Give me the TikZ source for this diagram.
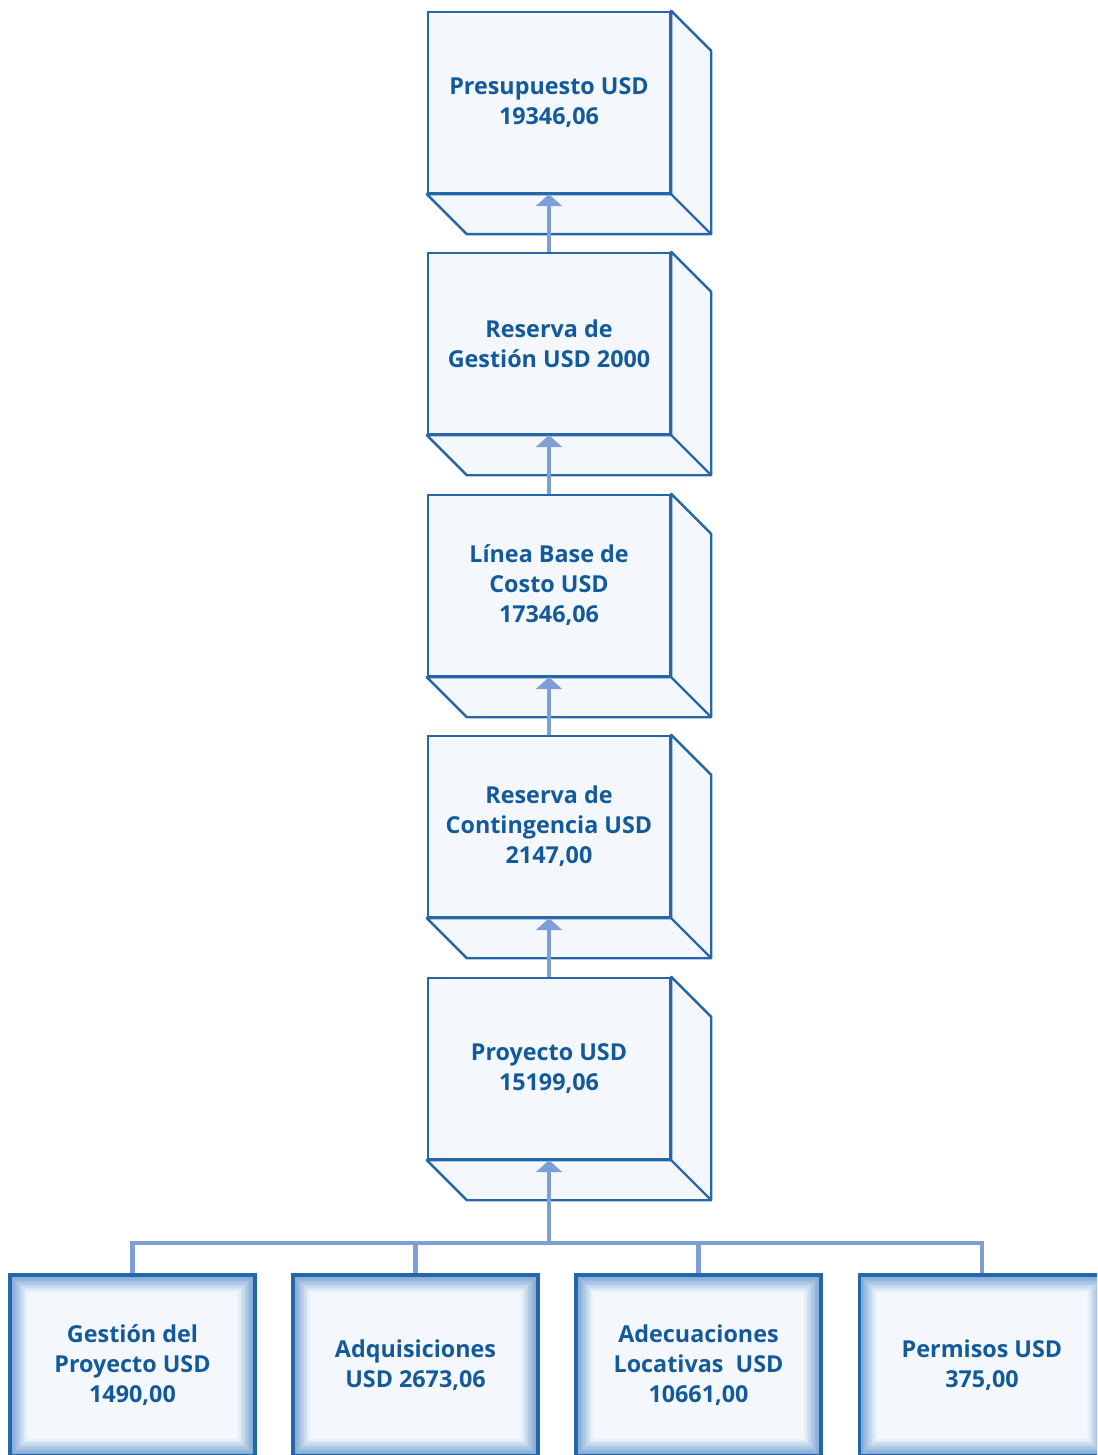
\documentclass[tikz,border=0pt]{standalone}
\usepackage{fontspec}
\setmainfont{Open Sans}
\usepackage{xcolor}
\usetikzlibrary{arrows.meta,calc}

\definecolor{boxtext}{HTML}{135A9C}
\definecolor{boxedge}{HTML}{2567A8}
\definecolor{boxfill}{HTML}{F4F8FD}
\definecolor{linkblue}{HTML}{7E9ED6}
\definecolor{glowblue}{HTML}{6F9DD0}

\begin{document}
\begin{tikzpicture}[
    x=0.75pt, y=-0.75pt,
    >={Triangle[width=19.5pt,length=9pt]},
    label/.style={align=center,text=boxtext,font=\bfseries\fontsize{17.5}{22.5}\selectfont},
    cube/.style={label,rectangle,draw=boxedge,line width=1.8pt,fill=boxfill,
      minimum width=181.5pt,minimum height=135.75pt,inner sep=0pt},
    depth/.style={draw=boxedge,line width=1.8pt,fill=boxfill,line join=round},
    leaf/.style={label,rectangle,draw=boxedge,line width=2.4pt,fill=boxfill,
      minimum width=183.75pt,minimum height=135.75pt,inner sep=0pt,
      path picture={
        \foreach \k in {1,...,13}{
          \pgfmathtruncatemacro\t{100-\k*7.5}
          \draw[glowblue!\t!boxfill,line width=1.2pt]
            ([shift={(\k*1pt,-\k*1pt)}]path picture bounding box.north west)
            rectangle ([shift={(-\k*1pt,\k*1pt)}]path picture bounding box.south east);
        }}},
    link/.style={linkblue,line width=3.6pt}
  ]
  \useasboundingbox (0,0) rectangle (1097,1455);
  \clip (0,0) rectangle (1097,1455);

  % budget chain
  \node[cube] (pres) at (549,102.5)  {Presupuesto USD\\19346,06};
  \node[cube] (gest) at (549,343.5)  {Reserva de\\Gestión USD 2000};
  \node[cube] (base) at (549,585.5)  {Línea Base de\\Costo USD\\17346,06};
  \node[cube] (cont) at (549,826.5)  {Reserva de\\Contingencia USD\\2147,00};
  \node[cube] (proy) at (549,1068.5) {Proyecto USD\\15199,06};

  % side and bottom faces
  \foreach \n in {pres,gest,base,cont,proy}{
    \draw[depth] (\n.north east) -- ++(40,40) -- ($(\n.south east)+(40,40)$)
      -- ($(\n.south west)+(40,40)$) -- (\n.south west) -- (\n.south east) -- cycle;
    \draw[depth] (\n.south east) -- ++(40,40);
  }

  % work packages
  \node[leaf] (gp)   at (132.5,1365.5) {Gestión del\\Proyecto USD\\1490,00};
  \node[leaf] (adq)  at (415.5,1365.5) {Adquisiciones\\USD 2673,06};
  \node[leaf] (adec) at (698.5,1365.5) {Adecuaciones\\Locativas~ USD\\10661,00};
  \node[leaf] (perm) at (982,1365.5)   {Permisos USD\\375,00};

  \draw[link,->] (gest.north) -- (pres.south);
  \draw[link,->] (base.north) -- (gest.south);
  \draw[link,->] (cont.north) -- (base.south);
  \draw[link,->] (proy.north) -- (cont.south);

  \coordinate (hub) at (549,1243);
  \draw[link,->] (hub) -- (proy.south);
  \draw[link] (gp.north) |- (hub) -| (perm.north);
  \draw[link] (adq.north) -- (adq.north |- hub);
  \draw[link] (adec.north) -- (adec.north |- hub);
\end{tikzpicture}
\end{document}
